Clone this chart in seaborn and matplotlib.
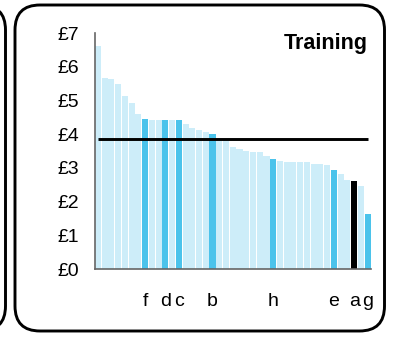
import numpy as np
import pandas as pd
import seaborn as sns
import matplotlib.pyplot as plt
from matplotlib.patches import FancyBboxPatch

# values, sorted high to low
prices = [6.60, 5.68, 5.64, 5.50, 5.14, 4.93, 4.61, 4.46, 4.43, 4.43,
          4.43, 4.43, 4.43, 4.30, 4.18, 4.12, 4.07, 4.01, 3.86, 3.82,
          3.62, 3.56, 3.50, 3.47, 3.47, 3.35, 3.26, 3.20, 3.17, 3.17,
          3.17, 3.17, 3.12, 3.12, 3.09, 2.94, 2.82, 2.64, 2.61, 2.46, 1.63]
# labelled bars: position in the sorted list -> letter
marked_pos = [7, 10, 12, 17, 26, 35, 38, 40]
marked_lab = ['f', 'd', 'c', 'b', 'h', 'e', 'a', 'g']
black_lab = 'a'
y_ticks = [0, 1, 2, 3, 4, 5, 6, 7]
title = 'Training'

LIGHT = '#cdedf9'
BLUE = '#4bc3eb'

df = pd.DataFrame({'pos': range(len(prices)), 'price': prices})
colors = [LIGHT] * len(prices)
for p, lab in zip(marked_pos, marked_lab):
    colors[p] = 'black' if lab == black_lab else BLUE
avg = np.mean(prices)

sns.set_style('white')
plt.rcParams['font.family'] = ['Liberation Sans', 'DejaVu Sans']
plt.rcParams['text.color'] = 'black'
plt.rcParams['xtick.color'] = 'black'
plt.rcParams['ytick.color'] = 'black'

W, H = 396, 337
fig = plt.figure(figsize=(W / 100, H / 100), dpi=100)

# rounded panel frames, drawn in pixel units
bg = fig.add_axes([0, 0, 1, 1], zorder=-1)
bg.set_xlim(0, W)
bg.set_ylim(H, 0)
bg.axis('off')
bg.add_patch(FancyBboxPatch((15, 5), 369.5, 326, boxstyle='round,pad=0,rounding_size=25',
                            fc='none', ec='black', lw=2.1))
bg.add_patch(FancyBboxPatch((-150, 5), 155.5, 326, boxstyle='round,pad=0,rounding_size=25',
                            fc='none', ec='black', lw=2.1))

ax = fig.add_axes([94.5 / W, (H - 269) / H, (371 - 94.5) / W, (269 - 33) / H])
ax.patch.set_alpha(0)
sns.barplot(data=df, x='pos', y='price', hue='pos', palette=colors, legend=False,
            width=0.9, saturation=1, linewidth=0, ax=ax)
ax.hlines(avg, 0, len(prices) - 1, color='black', lw=2.1, zorder=5)

ax.set_xlim(-0.5, len(prices) - 0.5)
ax.set_ylim(0, 7)
ax.set_yticks(y_ticks)
ax.set_yticklabels([f'£{v}' for v in y_ticks])
ax.set_xticks(marked_pos)
ax.set_xticklabels(marked_lab)
ax.set_xlabel('')
ax.set_ylabel('')
ax.tick_params(axis='y', length=5, width=1, color='#666666', labelcolor='black',
               pad=6, labelsize=14)
ax.tick_params(axis='x', length=0, pad=17, labelsize=14, labelcolor='black')
sns.despine(ax=ax)
for s in ['left', 'bottom']:
    ax.spines[s].set_color('#666666')
    ax.spines[s].set_linewidth(1.2)

fig.text(368 / W, (H - 49) / H, title, ha='right', va='baseline',
         fontsize=15.5, fontweight='bold', color='black')

fig.savefig('out.png', dpi=100)
